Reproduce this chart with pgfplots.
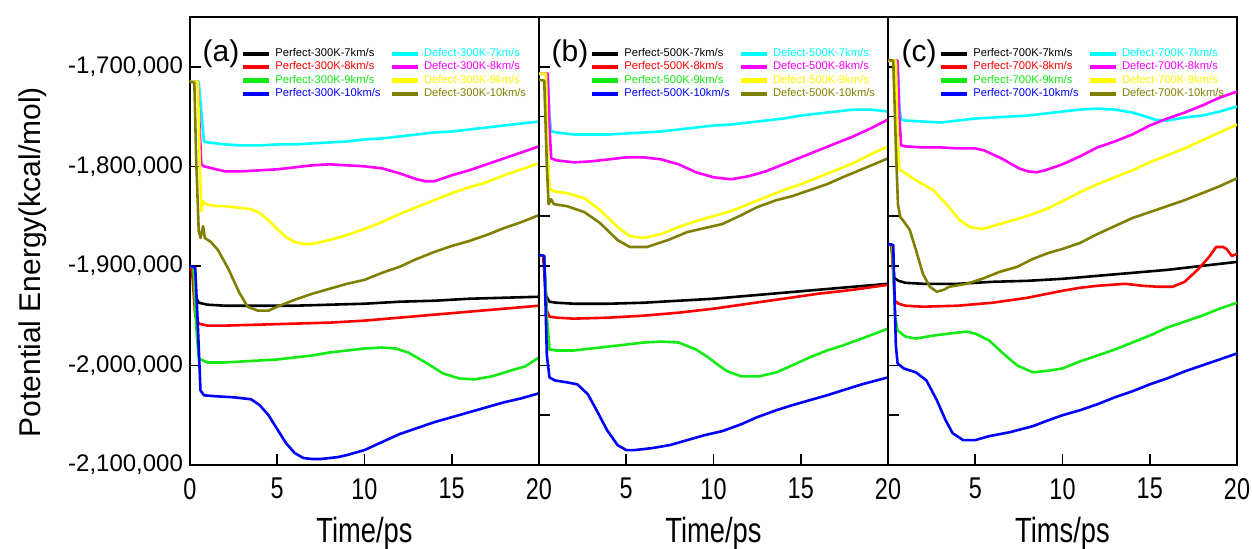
\documentclass[border=0pt]{standalone}
\usepackage{pgfplots}
\pgfplotsset{compat=1.18}
\usepgfplotslibrary{groupplots}
\usepackage{fontspec}
\setmainfont{Liberation Sans}
\newfontfamily\narrowfont[FakeStretch=0.78]{Liberation Sans}

\definecolor{cPa}{RGB}{0,0,0}
\definecolor{cPb}{RGB}{255,0,0}
\definecolor{cPc}{RGB}{20,235,20}
\definecolor{cPd}{RGB}{0,0,255}
\definecolor{cDa}{RGB}{0,255,255}
\definecolor{cDb}{RGB}{255,0,255}
\definecolor{cDc}{RGB}{255,255,0}
\definecolor{cDd}{RGB}{128,128,0}

% legend block for one temperature, entries filled row by row
\newcommand{\templegend}[1]{%
  \addlegendimage{cPa}\addlegendentry{\textcolor{cPa}{Perfect-#1K-7km/s}}
  \addlegendimage{cDa}\addlegendentry{\textcolor{cDa}{Defect-#1K-7km/s}}
  \addlegendimage{cPb}\addlegendentry{\textcolor{cPb}{Perfect-#1K-8km/s}}
  \addlegendimage{cDb}\addlegendentry{\textcolor{cDb}{Defect-#1K-8km/s}}
  \addlegendimage{cPc}\addlegendentry{\textcolor{cPc}{Perfect-#1K-9km/s}}
  \addlegendimage{cDc}\addlegendentry{\textcolor{cDc}{Defect-#1K-9km/s}}
  \addlegendimage{cPd}\addlegendentry{\textcolor{cPd}{Perfect-#1K-10km/s}}
  \addlegendimage{cDd}\addlegendentry{\textcolor{cDd}{Defect-#1K-10km/s}}
}

\begin{document}
\begin{tikzpicture}
\begin{groupplot}[
  group style={group size=3 by 1, horizontal sep=0pt},
  scale only axis,
  width=174.5pt, height=224pt,
  xmin=0, xmax=20, ymin=-2100, ymax=-1650,
  xtick={0,5,10,15,20},
  tick align=inside, xtick pos=bottom, ytick pos=left,
  major tick length=5.5pt,
  axis line style={line width=0.9pt},
  every tick/.style={black, line width=0.8pt},
  /pgf/number format/assume math mode=true,
  xticklabel style={font=\narrowfont\fontsize{15}{15}\selectfont, yshift=-3pt},
  yticklabel style={font=\fontsize{12}{12}\selectfont},
  xlabel style={font=\narrowfont\fontsize{17.5}{17.5}\selectfont, yshift=-2pt},
  every axis plot/.append style={line width=1.3pt, line join=round},
  legend style={draw=none, fill=none, font=\fontsize{5.6}{5.6}\selectfont,
    at={(rel axis cs:0.145,0.94)}, anchor=north west,
    row sep=-2.9pt, column sep=0pt, inner sep=0pt,
    /tikz/every even column/.append style={column sep=2.5pt}},
  legend columns=2, legend cell align=left,
  legend image code/.code={\draw[#1, line width=2.2pt] (0pt,0pt) -- (13pt,0pt);},
]
% ---------------- (a) 300K ----------------
\nextgroupplot[
  xticklabels={0,5,10,15,20},
  ytick={-2100,-2000,-1900,-1800,-1700},
  yticklabels={{-2,100,000},{-2,000,000},{-1,900,000},{-1,800,000},{-1,700,000}},
  ylabel={Potential Energy(kcal/mol)},
  ylabel style={font=\fontsize{15}{15}\selectfont, at={(ticklabel cs:0.453)}, yshift=4pt},
  xlabel={Time/ps},
]
\addplot[cPa, forget plot] coordinates {(0,-1900)(0.15,-1905)(0.3,-1930)(0.5,-1937)(1,-1939)(2,-1940)(4,-1940)(6,-1940)(8,-1939)(10,-1938)(12,-1936)(14,-1935)(16,-1933)(18,-1932)(20,-1931)};
\addplot[cPb, forget plot] coordinates {(0,-1900)(0.12,-1905)(0.3,-1950)(0.5,-1958)(1,-1960)(2,-1960)(4,-1959)(6,-1958)(8,-1957)(10,-1955)(12,-1952)(14,-1949)(16,-1946)(18,-1943)(20,-1940)};
\addplot[cPc, forget plot] coordinates {(0,-1900)(0.2,-1902)(0.35,-1960)(0.5,-1993)(1,-1997)(2,-1997)(3,-1996)(4,-1995)(5,-1994)(6,-1992)(7,-1990)(8,-1987)(9,-1985)(10,-1983)(11,-1982)(11.8,-1983)(12.5,-1987)(13.5,-1997)(14.5,-2008)(15.4,-2013)(16.3,-2014)(17.3,-2011)(18.4,-2005)(19.2,-2001)(20,-1992)};
\addplot[cPd, forget plot] coordinates {(0,-1900)(0.3,-1902)(0.45,-1960)(0.6,-2025)(0.8,-2030)(1.5,-2031)(2.5,-2032)(3.5,-2034)(4,-2040)(4.5,-2050)(5,-2064)(5.5,-2078)(6,-2088)(6.5,-2093)(7,-2094)(7.5,-2094)(8,-2093)(8.5,-2092)(9,-2090)(10,-2085)(11,-2077)(12,-2069)(13,-2063)(14,-2057)(15,-2052)(16,-2047)(17,-2042)(18,-2037)(19,-2033)(20,-2028)};
\addplot[cDa, forget plot] coordinates {(0,-1715)(0.5,-1715)(0.65,-1745)(0.8,-1775)(1,-1776)(1.5,-1777)(2,-1778)(3,-1779)(4,-1779)(5,-1778)(6,-1778)(7,-1777)(8,-1776)(9,-1775)(10,-1773)(11,-1772)(12,-1770)(13,-1768)(14,-1766)(15,-1765)(16,-1763)(17,-1761)(18,-1759)(19,-1757)(20,-1755)};
\addplot[cDb, forget plot] coordinates {(0,-1715)(0.45,-1715)(0.55,-1760)(0.65,-1798)(0.8,-1800)(1.5,-1803)(2,-1805)(3,-1805)(4,-1804)(5,-1803)(6,-1801)(7,-1799)(8,-1798)(9,-1799)(10,-1800)(11,-1802)(12,-1807)(13,-1813)(13.5,-1815)(14,-1815)(14.5,-1812)(15,-1809)(16,-1804)(17,-1798)(18,-1792)(19,-1786)(20,-1780)};
\addplot[cDc, forget plot] coordinates {(0,-1715)(0.45,-1715)(0.55,-1790)(0.65,-1845)(0.75,-1835)(0.9,-1838)(1.5,-1840)(2,-1840)(3,-1842)(3.5,-1843)(4,-1847)(4.5,-1854)(5,-1863)(5.5,-1871)(6,-1876)(6.5,-1878)(7,-1878)(7.5,-1876)(8,-1874)(9,-1869)(10,-1863)(11,-1856)(12,-1848)(13,-1841)(14,-1834)(15,-1827)(16,-1821)(17,-1816)(18,-1809)(19,-1803)(20,-1797)};
\addplot[cDd, forget plot] coordinates {(0,-1715)(0.25,-1716)(0.35,-1790)(0.5,-1865)(0.6,-1872)(0.75,-1860)(0.85,-1872)(1.2,-1876)(1.6,-1884)(2.2,-1903)(2.8,-1926)(3.3,-1941)(3.9,-1945)(4.5,-1945)(5,-1941)(6,-1934)(7,-1928)(8,-1923)(9,-1918)(10,-1914)(11,-1907)(12,-1901)(13,-1893)(14,-1886)(15,-1880)(16,-1875)(17,-1869)(18,-1862)(19,-1856)(20,-1849)};
\templegend{300}
\node[font=\fontsize{15}{15}\selectfont] at (rel axis cs:0.089,0.917) {(a)};
% ---------------- (b) 500K ----------------
\nextgroupplot[
  xticklabels={,5,10,15,20},
  ytick={-2100,-2050,...,-1650}, yticklabels={},
  xlabel={Time/ps},
]
\addplot[cPa, forget plot] coordinates {(0,-1889)(0.25,-1890)(0.4,-1930)(0.6,-1936)(1,-1937)(2,-1938)(4,-1938)(6,-1937)(8,-1935)(10,-1933)(12,-1930)(14,-1927)(16,-1924)(18,-1921)(20,-1918)};
\addplot[cPb, forget plot] coordinates {(0,-1889)(0.25,-1890)(0.45,-1945)(0.6,-1951)(1,-1952)(2,-1953)(4,-1952)(6,-1950)(8,-1947)(10,-1943)(12,-1938)(14,-1933)(16,-1928)(18,-1924)(20,-1919)};
\addplot[cPc, forget plot] coordinates {(0,-1889)(0.3,-1890)(0.45,-1950)(0.6,-1984)(1,-1985)(2,-1985)(3,-1983)(4,-1981)(5,-1979)(6,-1977)(7,-1976)(8,-1977)(9,-1984)(9.7,-1992)(10.3,-2000)(10.8,-2006)(11.6,-2011)(12.6,-2011)(13.6,-2007)(14.5,-2000)(15.5,-1992)(16.5,-1985)(17.4,-1980)(18.5,-1973)(20,-1963)};
\addplot[cPd, forget plot] coordinates {(0,-1889)(0.3,-1890)(0.45,-1990)(0.6,-2012)(0.9,-2015)(1.6,-2017)(2.2,-2019)(2.8,-2029)(3.3,-2045)(3.9,-2065)(4.5,-2080)(5,-2085)(5.5,-2085)(6.5,-2083)(7.5,-2080)(8.5,-2075)(9.5,-2070)(10.5,-2066)(11.6,-2059)(12.5,-2052)(13.6,-2045)(14.5,-2040)(15.5,-2035)(16.5,-2030)(17.4,-2025)(18.5,-2019)(20,-2012)};
\addplot[cDa, forget plot] coordinates {(0,-1707)(0.5,-1707)(0.6,-1750)(0.7,-1765)(1,-1766)(2,-1768)(3,-1768)(4,-1768)(5,-1767)(6,-1766)(7,-1765)(8,-1763)(9,-1761)(10,-1759)(11,-1758)(12,-1756)(13,-1754)(14,-1752)(15,-1749)(16,-1747)(17,-1745)(18,-1743)(19,-1743)(20,-1745)};
\addplot[cDb, forget plot] coordinates {(0,-1707)(0.5,-1707)(0.6,-1760)(0.7,-1792)(1,-1794)(2,-1796)(3,-1795)(4,-1793)(5,-1791)(6,-1791)(7,-1793)(8,-1798)(9,-1806)(10,-1811)(11,-1813)(12,-1810)(13,-1805)(14,-1798)(15,-1791)(16,-1784)(17,-1777)(18,-1770)(19,-1762)(20,-1753)};
\addplot[cDc, forget plot] coordinates {(0,-1707)(0.4,-1707)(0.5,-1790)(0.6,-1822)(0.8,-1825)(1.6,-1827)(2.6,-1832)(3.5,-1844)(4.5,-1861)(5.2,-1870)(6,-1872)(7,-1868)(8,-1861)(9,-1855)(10,-1850)(11,-1845)(12,-1838)(13,-1831)(14,-1824)(15,-1818)(16,-1811)(17,-1804)(18,-1797)(19,-1788)(20,-1780)};
\addplot[cDd, forget plot] coordinates {(0,-1713)(0.3,-1714)(0.45,-1800)(0.55,-1838)(0.7,-1833)(0.85,-1838)(1.6,-1840)(2.6,-1846)(3.5,-1857)(4.5,-1874)(5.2,-1881)(6.2,-1881)(7.4,-1874)(8.5,-1866)(9.5,-1862)(10.5,-1858)(11.6,-1849)(12.5,-1841)(13.6,-1834)(14.5,-1830)(15.5,-1824)(16.5,-1818)(17.4,-1811)(18.5,-1803)(20,-1792)};
\templegend{500}
\node[font=\fontsize{15}{15}\selectfont] at (rel axis cs:0.089,0.917) {(b)};
% ---------------- (c) 700K ----------------
\nextgroupplot[
  xticklabels={,5,10,15,20},
  ytick={-2100,-2050,...,-1650}, yticklabels={},
  xlabel={Tims/ps},
]
\addplot[cPa, forget plot] coordinates {(0,-1878)(0.2,-1879)(0.35,-1912)(0.6,-1915)(1,-1917)(2,-1918)(4,-1918)(6,-1916)(8,-1915)(10,-1913)(12,-1910)(14,-1907)(16,-1904)(18,-1900)(20,-1896)};
\addplot[cPb, forget plot] coordinates {(0,-1878)(0.2,-1879)(0.4,-1935)(0.6,-1938)(1,-1940)(2,-1941)(4,-1940)(6,-1937)(8,-1932)(10,-1925)(11,-1922)(12,-1920)(13.6,-1918)(14.6,-1920)(15.5,-1921)(16.3,-1921)(17,-1916)(17.8,-1903)(18.4,-1891)(18.8,-1881)(19.2,-1881)(19.4,-1883)(19.7,-1890)(20,-1888)};
\addplot[cPc, forget plot] coordinates {(0,-1878)(0.25,-1879)(0.4,-1950)(0.55,-1965)(1,-1971)(1.6,-1973)(2.6,-1970)(3.5,-1968)(4.5,-1966)(5,-1968)(5.8,-1975)(6.6,-1988)(7.4,-2000)(8.3,-2007)(9.3,-2005)(10,-2003)(11,-1996)(12,-1990)(13,-1984)(14,-1977)(15,-1970)(16,-1962)(17,-1956)(18,-1950)(19,-1943)(20,-1937)};
\addplot[cPd, forget plot] coordinates {(0,-1878)(0.3,-1879)(0.45,-1980)(0.55,-1998)(0.9,-2003)(1.6,-2007)(2.2,-2015)(2.8,-2035)(3.3,-2055)(3.7,-2068)(4.3,-2075)(5,-2075)(5.8,-2071)(7,-2067)(8.3,-2061)(9.2,-2055)(10,-2050)(11,-2045)(12,-2039)(13,-2032)(14,-2026)(15,-2019)(16,-2013)(17,-2006)(18,-2000)(19,-1994)(20,-1988)};
\addplot[cDa, forget plot] coordinates {(0,-1694)(0.55,-1694)(0.65,-1740)(0.75,-1753)(1,-1754)(2,-1755)(3,-1756)(4,-1754)(5,-1752)(6,-1751)(7,-1750)(8,-1749)(9,-1747)(10,-1745)(11,-1743)(12,-1742)(13,-1743)(14,-1746)(14.6,-1749)(15.3,-1753)(16,-1754)(17,-1751)(18,-1749)(19,-1745)(20,-1740)};
\addplot[cDb, forget plot] coordinates {(0,-1694)(0.55,-1694)(0.65,-1750)(0.75,-1779)(1,-1780)(2,-1781)(3,-1781)(4,-1782)(5,-1782)(5.5,-1784)(6,-1788)(6.5,-1792)(7,-1797)(7.5,-1802)(8,-1805)(8.5,-1806)(9,-1804)(9.5,-1801)(10,-1798)(11,-1790)(12,-1781)(13,-1775)(14,-1768)(15,-1759)(16,-1752)(17,-1746)(18,-1739)(19,-1731)(20,-1725)};
\addplot[cDc, forget plot] coordinates {(0,-1694)(0.45,-1694)(0.55,-1770)(0.65,-1803)(0.9,-1806)(1.6,-1814)(2.6,-1824)(3.5,-1841)(4.1,-1854)(4.7,-1861)(5.4,-1863)(6,-1860)(6.4,-1858)(7.4,-1853)(8.3,-1848)(9.2,-1842)(10,-1835)(11,-1826)(12,-1818)(13,-1811)(14,-1804)(15,-1796)(16,-1789)(17,-1782)(18,-1774)(19,-1766)(20,-1758)};
\addplot[cDd, forget plot] coordinates {(0,-1693)(0.3,-1694)(0.45,-1780)(0.57,-1838)(0.7,-1851)(0.85,-1854)(1.25,-1864)(1.6,-1884)(2,-1908)(2.4,-1921)(2.8,-1926)(3.2,-1924)(3.5,-1921)(4.5,-1918)(5.4,-1913)(6.4,-1906)(7.4,-1901)(8.3,-1893)(9.2,-1887)(10,-1883)(11,-1877)(12,-1868)(13,-1860)(14,-1852)(15,-1846)(16,-1840)(17,-1834)(18,-1827)(19,-1820)(20,-1812)};
\templegend{700}
\node[font=\fontsize{15}{15}\selectfont] at (rel axis cs:0.089,0.917) {(c)};
\end{groupplot}
\pgfresetboundingbox
\path (group c1r1.south west) ++(-95pt,-42pt) rectangle ++(626pt,274.5pt);
\end{tikzpicture}
\end{document}
